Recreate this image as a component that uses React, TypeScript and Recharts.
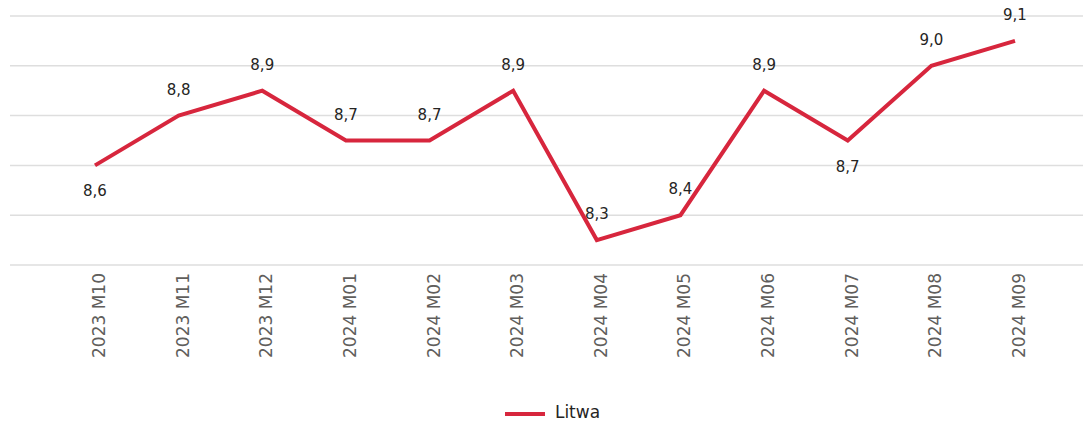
import { LineChart, Line, XAxis, YAxis, CartesianGrid, Legend, LabelList } from "recharts";

const MONTHS = [
  "2023 M10", "2023 M11", "2023 M12", "2024 M01", "2024 M02", "2024 M03",
  "2024 M04", "2024 M05", "2024 M06", "2024 M07", "2024 M08", "2024 M09",
];
const LITWA = [8.6, 8.8, 8.9, 8.7, 8.7, 8.9, 8.3, 8.4, 8.9, 8.7, 9.0, 9.1];
const Y_TICKS = [8.2, 8.4, 8.6, 8.8, 9.0, 9.2];
// which data labels sit under the line instead of above it
const LABEL_BELOW = [true, false, false, false, false, false, false, false, false, true, false, false];

const RED = "#D7263D";
const FONT = "'DejaVu Sans', sans-serif";

const data = MONTHS.map((m, i) => ({ month: m, Litwa: LITWA[i] }));

function MonthTick(props: any) {
  const { x, y, payload } = props;
  return (
    <text
      x={x}
      y={y}
      dy={10}
      transform={`rotate(-90, ${x}, ${y})`}
      textAnchor="end"
      fill="#605E5C"
      fontSize={17}
      fontFamily={FONT}
    >
      {payload.value}
    </text>
  );
}

function ValueLabel(props: any) {
  const { x, y, value, index } = props;
  const below = LABEL_BELOW[index];
  return (
    <text
      x={x}
      y={below ? y + 26 : y - 26}
      textAnchor="middle"
      dominantBaseline="central"
      fill="#252423"
      fontSize={15}
      fontFamily={FONT}
    >
      {String(value.toFixed(1)).replace(".", ",")}
    </text>
  );
}

function LegendContent() {
  return (
    <div
      style={{
        display: "flex",
        justifyContent: "center",
        alignItems: "center",
        height: 24,
        paddingLeft: 12,
        fontFamily: FONT,
        fontSize: 17,
        color: "#252423",
      }}
    >
      <span style={{ display: "inline-block", width: 40, height: 4, background: RED, marginRight: 10, marginTop: 3 }} />
      <span>Litwa</span>
    </div>
  );
}

export default function App() {
  return (
    <div style={{ position: "absolute", left: 0, top: 0, background: "#fff" }}>
      <LineChart width={1083} height={424} data={data} margin={{ top: 16, right: 0, left: 10, bottom: 0 }}>
        <CartesianGrid vertical={false} stroke="#DEDEDE" strokeWidth={1.5} />
        <XAxis
          dataKey="month"
          interval={0}
          height={135}
          axisLine={false}
          tickLine={false}
          tickSize={6}
          tickMargin={2}
          padding={{ left: 85, right: 68 }}
          tick={<MonthTick />}
        />
        <YAxis hide domain={[8.2, 9.2]} ticks={Y_TICKS} />
        <Legend verticalAlign="bottom" height={24} content={<LegendContent />} />
        <Line
          dataKey="Litwa"
          stroke={RED}
          strokeWidth={4}
          dot={false}
          activeDot={false}
          isAnimationActive={false}
        >
          <LabelList dataKey="Litwa" content={<ValueLabel />} />
        </Line>
      </LineChart>
    </div>
  );
}
